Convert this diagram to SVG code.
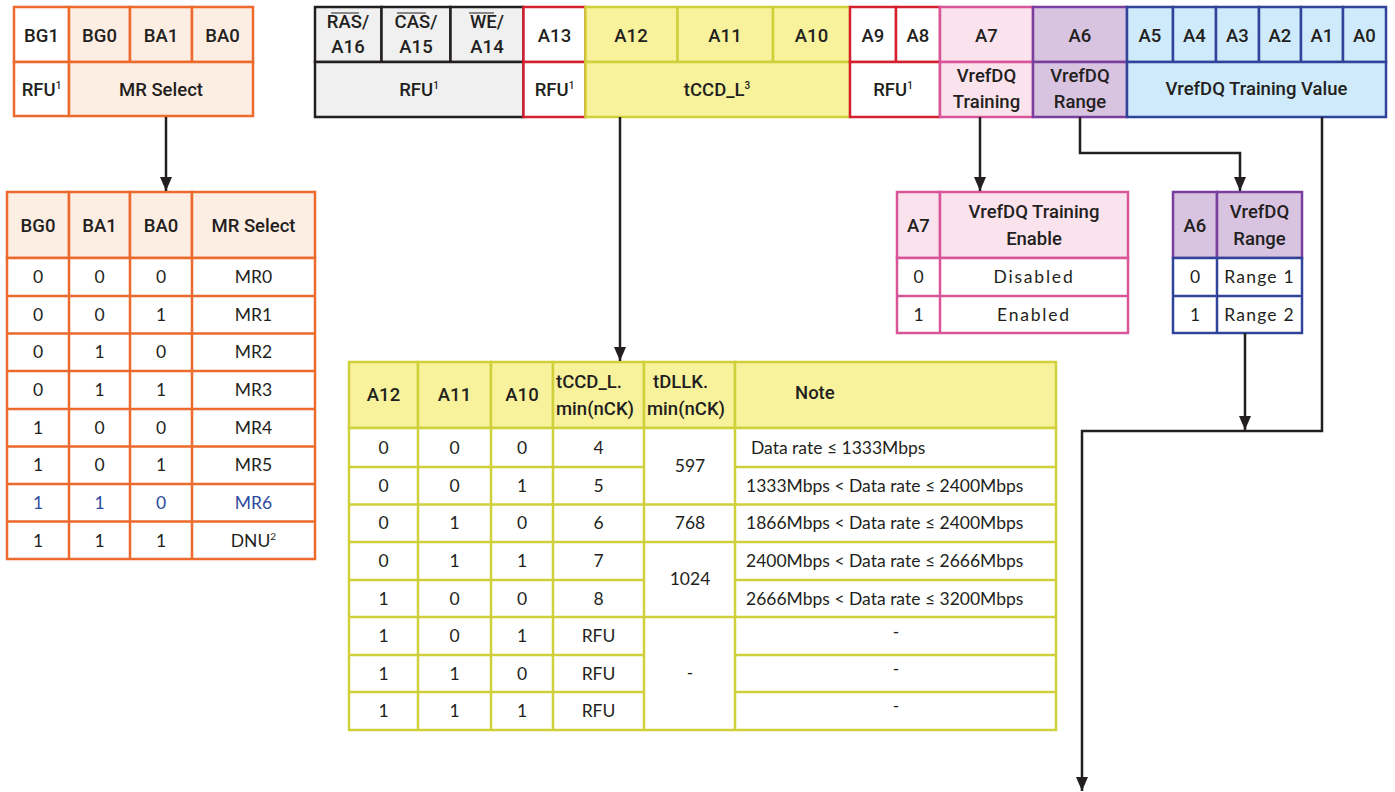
<svg xmlns="http://www.w3.org/2000/svg" width="1395" height="792" viewBox="0 0 1395 792">
<style>
.h{font-family:Roboto,"Liberation Sans",sans-serif;font-weight:500;font-size:18.5px;fill:#231f20;text-anchor:middle}
.d{font-family:Lato,"Open Sans",sans-serif;font-size:17.5px;fill:#231f20;text-anchor:middle}
.sp{letter-spacing:1.8px}
.sup{font-size:10px}
.or{fill:#fdeee4;stroke:#ec6a2c;stroke-width:2.5}
.orw{fill:#ffffff;stroke:#ec6a2c;stroke-width:2.5}
.gr{fill:#f0f0f0;stroke:#231f20;stroke-width:2.5}
.rdw{fill:#ffffff;stroke:#d4202f;stroke-width:2.5}
.ye{fill:#f8f29c;stroke:#cfd03a;stroke-width:2.5}
.pk{fill:#fbe3ee;stroke:#d9559a;stroke-width:2.5}
.pu{fill:#d8c3e0;stroke:#7a3f9e;stroke-width:2.5}
.bl{fill:#cfeafa;stroke:#30449a;stroke-width:2.5}
.blue{fill:#2e4a9e}
.conn path{fill:none;stroke:#231f20;stroke-width:2.5}
</style>
<defs>
<marker id="ah" viewBox="0 0 14 12" refX="14" refY="6" markerWidth="14" markerHeight="12" markerUnits="userSpaceOnUse" orient="auto">
<path d="M0,0 L14,6 L0,12 z" fill="#231f20"/>
</marker>
</defs>
<rect width="1395" height="792" fill="#ffffff"/>

<g id="mr-field">
<rect class="orw" x="14" y="7" width="55" height="55"/>
<rect class="or" x="69" y="7" width="61" height="55"/>
<rect class="or" x="130" y="7" width="62" height="55"/>
<rect class="or" x="192" y="7" width="61" height="55"/>
<rect class="orw" x="14" y="62" width="55" height="54"/>
<rect class="or" x="69" y="62" width="184" height="54"/>
<text class="h" x="41.5" y="41.5">BG1</text>
<text class="h" x="99.5" y="41.5">BG0</text>
<text class="h" x="161" y="41.5">BA1</text>
<text class="h" x="222.5" y="41.5">BA0</text>
<text class="h" x="41.5" y="95.5">RFU<tspan class="sup" dy="-7">1</tspan></text>
<text class="h" x="161" y="95.5">MR Select</text>
</g>

<g id="field-a16-a14">
<rect class="gr" x="315" y="7" width="66.5" height="55"/>
<rect class="gr" x="381.5" y="7" width="69" height="55"/>
<rect class="gr" x="450.5" y="7" width="73" height="55"/>
<rect class="gr" x="315" y="62" width="208.5" height="55"/>
<text class="h" x="348" y="28">RAS/</text>
<line x1="331" y1="13" x2="359" y2="13" stroke="#231f20" stroke-width="1"/>
<text class="h" x="348" y="53">A16</text>
<text class="h" x="416" y="28">CAS/</text>
<line x1="397" y1="13" x2="426" y2="13" stroke="#231f20" stroke-width="1"/>
<text class="h" x="416" y="53">A15</text>
<text class="h" x="487" y="28">WE/</text>
<line x1="469" y1="13" x2="494" y2="13" stroke="#231f20" stroke-width="1"/>
<text class="h" x="487" y="53">A14</text>
<text class="h" x="419" y="96">RFU<tspan class="sup" dy="-7">1</tspan></text>
</g>

<g id="field-a13">
<rect class="rdw" x="523.5" y="7" width="62" height="55"/>
<rect class="rdw" x="523.5" y="62" width="62" height="55"/>
<text class="h" x="554.5" y="42">A13</text>
<text class="h" x="554.5" y="96">RFU<tspan class="sup" dy="-7">1</tspan></text>
</g>

<g id="field-a12-a10">
<rect class="ye" x="585.5" y="7" width="92" height="55"/>
<rect class="ye" x="677.5" y="7" width="95.5" height="55"/>
<rect class="ye" x="773" y="7" width="77" height="55"/>
<rect class="ye" x="585.5" y="62" width="264.5" height="55"/>
<text class="h" x="631" y="42">A12</text>
<text class="h" x="725" y="42">A11</text>
<text class="h" x="811.5" y="42">A10</text>
<text class="h" x="717" y="96">tCCD_L<tspan class="sup" dy="-7">3</tspan></text>
</g>

<g id="field-a9-a8">
<rect class="rdw" x="850" y="7" width="46" height="55"/>
<rect class="rdw" x="896" y="7" width="44" height="55"/>
<rect class="rdw" x="850" y="62" width="90" height="55"/>
<text class="h" x="873" y="42">A9</text>
<text class="h" x="918" y="42">A8</text>
<text class="h" x="893" y="96">RFU<tspan class="sup" dy="-7">1</tspan></text>
</g>

<g id="field-a7">
<rect class="pk" x="940" y="7" width="93" height="55"/>
<rect class="pk" x="940" y="62" width="93" height="55"/>
<text class="h" x="986.5" y="42">A7</text>
<text class="h" x="986.5" y="82">VrefDQ</text>
<text class="h" x="986.5" y="108">Training</text>
</g>

<g id="field-a6">
<rect class="pu" x="1033" y="7" width="94" height="55"/>
<rect class="pu" x="1033" y="62" width="94" height="55"/>
<text class="h" x="1080" y="42">A6</text>
<text class="h" x="1080" y="82">VrefDQ</text>
<text class="h" x="1080" y="108">Range</text>
</g>

<g id="field-a5-a0">
<rect class="bl" x="1127" y="7" width="46" height="55"/>
<rect class="bl" x="1173" y="7" width="43" height="55"/>
<rect class="bl" x="1216" y="7" width="43" height="55"/>
<rect class="bl" x="1259" y="7" width="42" height="55"/>
<rect class="bl" x="1301" y="7" width="42" height="55"/>
<rect class="bl" x="1343" y="7" width="43" height="55"/>
<rect class="bl" x="1127" y="62" width="259" height="55"/>
<text class="h" x="1150" y="42">A5</text>
<text class="h" x="1194.5" y="42">A4</text>
<text class="h" x="1237.5" y="42">A3</text>
<text class="h" x="1280" y="42">A2</text>
<text class="h" x="1322" y="42">A1</text>
<text class="h" x="1364.5" y="42">A0</text>
<text class="h" x="1256.5" y="95">VrefDQ Training Value</text>
</g>

<g id="mr-table">
<rect class="or" x="7" y="192" width="62" height="66"/>
<rect class="or" x="69" y="192" width="61" height="66"/>
<rect class="or" x="130" y="192" width="62" height="66"/>
<rect class="or" x="192" y="192" width="123" height="66"/>
<g fill="none" stroke="#ec6a2c" stroke-width="2.5">
<rect x="7" y="258" width="308" height="301" fill="#ffffff"/>
<path d="M7,296H315M7,333.5H315M7,371H315M7,409H315M7,446.5H315M7,484H315M7,521.5H315M69,258V559M130,258V559M192,258V559"/>
</g>
<text class="h" x="38" y="231.5">BG0</text>
<text class="h" x="99.5" y="231.5">BA1</text>
<text class="h" x="161" y="231.5">BA0</text>
<text class="h" x="253.5" y="231.5">MR Select</text>
<g class="d">
<text x="38" y="283">0</text><text x="99.5" y="283">0</text><text x="161" y="283">0</text><text x="253.5" y="283">MR0</text>
<text x="38" y="320.5">0</text><text x="99.5" y="320.5">0</text><text x="161" y="320.5">1</text><text x="253.5" y="320.5">MR1</text>
<text x="38" y="358">0</text><text x="99.5" y="358">1</text><text x="161" y="358">0</text><text x="253.5" y="358">MR2</text>
<text x="38" y="396">0</text><text x="99.5" y="396">1</text><text x="161" y="396">1</text><text x="253.5" y="396">MR3</text>
<text x="38" y="433.5">1</text><text x="99.5" y="433.5">0</text><text x="161" y="433.5">0</text><text x="253.5" y="433.5">MR4</text>
<text x="38" y="471">1</text><text x="99.5" y="471">0</text><text x="161" y="471">1</text><text x="253.5" y="471">MR5</text>
<text class="blue" x="38" y="509">1</text><text class="blue" x="99.5" y="509">1</text><text class="blue" x="161" y="509">0</text><text class="blue" x="253.5" y="509">MR6</text>
<text x="38" y="546.5">1</text><text x="99.5" y="546.5">1</text><text x="161" y="546.5">1</text><text x="253.5" y="546.5">DNU<tspan class="sup" dy="-7">2</tspan></text>
</g>
</g>

<g id="tccd-table">
<rect class="ye" x="349" y="362" width="69" height="66"/>
<rect class="ye" x="418" y="362" width="73" height="66"/>
<rect class="ye" x="491" y="362" width="62" height="66"/>
<rect class="ye" x="553" y="362" width="91" height="66"/>
<rect class="ye" x="644" y="362" width="91" height="66"/>
<rect class="ye" x="735" y="362" width="321" height="66"/>
<g fill="none" stroke="#cfd03a" stroke-width="2.5">
<rect x="349" y="428" width="707" height="302" fill="#ffffff"/>
<path d="M349,467H644M735,467H1056M349,504.5H1056M349,542H1056M349,580H644M735,580H1056M349,617H1056M349,655H644M735,655H1056M349,692H644M735,692H1056"/>
<path d="M418,428V730M491,428V730M553,428V730M644,428V730M735,428V730"/>
</g>
<text class="h" x="383.5" y="401">A12</text>
<text class="h" x="454.5" y="401">A11</text>
<text class="h" x="522" y="401">A10</text>
<text class="h" x="556" y="388" style="text-anchor:start">tCCD_L.</text>
<text class="h" x="556" y="415" style="text-anchor:start">min(nCK)</text>
<text class="h" x="653" y="388" style="text-anchor:start">tDLLK.</text>
<text class="h" x="647" y="415" style="text-anchor:start">min(nCK)</text>
<text class="h" x="795" y="399" style="text-anchor:start">Note</text>
<g class="d">
<text x="383.5" y="454">0</text><text x="454.5" y="454">0</text><text x="522" y="454">0</text><text x="598.5" y="454">4</text>
<text x="383.5" y="491.5">0</text><text x="454.5" y="491.5">0</text><text x="522" y="491.5">1</text><text x="598.5" y="491.5">5</text>
<text x="383.5" y="529">0</text><text x="454.5" y="529">1</text><text x="522" y="529">0</text><text x="598.5" y="529">6</text>
<text x="383.5" y="567">0</text><text x="454.5" y="567">1</text><text x="522" y="567">1</text><text x="598.5" y="567">7</text>
<text x="383.5" y="604.5">1</text><text x="454.5" y="604.5">0</text><text x="522" y="604.5">0</text><text x="598.5" y="604.5">8</text>
<text x="383.5" y="642">1</text><text x="454.5" y="642">0</text><text x="522" y="642">1</text><text x="598.5" y="642">RFU</text>
<text x="383.5" y="679.5">1</text><text x="454.5" y="679.5">1</text><text x="522" y="679.5">0</text><text x="598.5" y="679.5">RFU</text>
<text x="383.5" y="717">1</text><text x="454.5" y="717">1</text><text x="522" y="717">1</text><text x="598.5" y="717">RFU</text>
<text x="690" y="472">597</text>
<text x="690" y="529">768</text>
<text x="690" y="585">1024</text>
<text x="690" y="679">-</text>
<text x="751" y="454" style="text-anchor:start">Data rate ≤ 1333Mbps</text>
<text x="746" y="491.5" style="text-anchor:start">1333Mbps &lt; Data rate ≤ 2400Mbps</text>
<text x="746" y="529" style="text-anchor:start">1866Mbps &lt; Data rate ≤ 2400Mbps</text>
<text x="746" y="567" style="text-anchor:start">2400Mbps &lt; Data rate ≤ 2666Mbps</text>
<text x="746" y="604.5" style="text-anchor:start">2666Mbps &lt; Data rate ≤ 3200Mbps</text>
<text x="896" y="638">-</text>
<text x="896" y="675">-</text>
<text x="896" y="712">-</text>
</g>
</g>

<g id="a7-table">
<rect class="pk" x="897" y="192" width="43" height="66"/>
<rect class="pk" x="940" y="192" width="188" height="66"/>
<g fill="none" stroke="#d9559a" stroke-width="2.5">
<rect x="897" y="258" width="231" height="75" fill="#ffffff"/>
<path d="M897,296H1128M940,258V333"/>
</g>
<text class="h" x="918.5" y="231.5">A7</text>
<text class="h" x="1034" y="218">VrefDQ Training</text>
<text class="h" x="1034" y="245">Enable</text>
<text class="d sp" x="1034" y="283">Disabled</text>
<text class="d" x="918.5" y="283">0</text>
<text class="d sp" x="1034" y="320.5">Enabled</text>
<text class="d" x="918.5" y="320.5">1</text>
</g>

<g id="a6-table">
<rect class="pu" x="1173" y="192" width="44" height="66"/>
<rect class="pu" x="1217" y="192" width="85" height="66"/>
<g fill="none" stroke="#30449a" stroke-width="2.5">
<rect x="1173" y="258" width="129" height="75" fill="#ffffff"/>
<path d="M1173,296H1302M1217,258V333"/>
</g>
<text class="h" x="1195" y="231.5">A6</text>
<text class="h" x="1259.5" y="218">VrefDQ</text>
<text class="h" x="1259.5" y="245">Range</text>
<text class="d" x="1195" y="283">0</text>
<text class="d" x="1259.5" y="283" style="letter-spacing:1.2px">Range 1</text>
<text class="d" x="1195" y="320.5">1</text>
<text class="d" x="1259.5" y="320.5" style="letter-spacing:1.2px">Range 2</text>
</g>

<g id="connectors" class="conn">
<path d="M166,117V191" marker-end="url(#ah)"/>
<path d="M620,117V361" marker-end="url(#ah)"/>
<path d="M980,117V191" marker-end="url(#ah)"/>
<path d="M1080,117V153H1240V191" marker-end="url(#ah)"/>
<path d="M1245,333V430" marker-end="url(#ah)"/>
<path d="M1322,117V431H1082V791" marker-end="url(#ah)"/>
</g>
</svg>
